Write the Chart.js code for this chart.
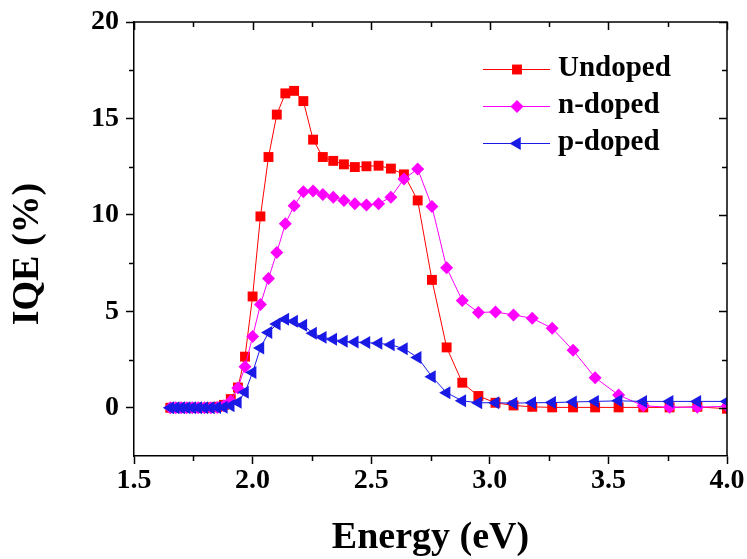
<!DOCTYPE html>
<html>
<head>
<meta charset="utf-8">
<title>IQE vs Energy</title>
<script src="https://cdn.jsdelivr.net/npm/chart.js@4.4.0/dist/chart.umd.min.js"></script>
<style>
  html, body { margin: 0; padding: 0; background: #fff; }
  #wrap { position: relative; width: 747px; height: 559px; }
</style>
</head>
<body>
<div id="wrap"><canvas id="iqeChart"></canvas></div>
<script>
// photon energy of each measured point (eV)
const energy = [1.653, 1.676, 1.699, 1.722, 1.746, 1.771, 1.797, 1.824, 1.851, 1.879,
  1.908, 1.938, 1.968, 2.000, 2.033, 2.067, 2.102, 2.138, 2.175, 2.214,
  2.255, 2.296, 2.340, 2.385, 2.431, 2.480, 2.531, 2.583, 2.638, 2.696,
  2.756, 2.818, 2.884, 2.952, 3.024, 3.100, 3.179, 3.263, 3.351, 3.444,
  3.543, 3.647, 3.758, 3.875, 4.000];

// IQE (%)
const undoped = [0, 0, 0, 0, 0, 0, 0, 0.02, 0.05, 0.15,
  0.45, 1.05, 2.65, 5.77, 9.92, 13.0, 15.2, 16.3, 16.43, 15.9,
  13.9, 13.0, 12.8, 12.62, 12.48, 12.52, 12.55, 12.4, 12.1, 10.75,
  6.63, 3.13, 1.3, 0.61, 0.26, 0.12, 0.05, 0.02, 0.02, 0.02,
  0.02, 0.02, 0.02, 0.05, -0.05];
const nDoped = [0, 0, 0, 0, 0, 0, 0, 0, 0.02, 0.1,
  0.35, 1.02, 2.13, 3.69, 5.35, 6.7, 8.05, 9.54, 10.47, 11.2,
  11.24, 11.06, 10.92, 10.75, 10.58, 10.51, 10.58, 10.92, 11.86, 12.38,
  10.44, 7.26, 5.56, 4.94, 4.97, 4.81, 4.64, 4.12, 2.98, 1.56,
  0.66, 0.1, 0.03, 0.03, 0.08];
const pDoped = [0, 0, 0, 0, 0, 0, 0, 0, 0.01, 0.03,
  0.1, 0.28, 0.8, 1.83, 3.1, 3.9, 4.34, 4.59, 4.48, 4.28,
  3.86, 3.65, 3.55, 3.45, 3.41, 3.38, 3.34, 3.27, 3.06, 2.61,
  1.61, 0.78, 0.36, 0.26, 0.26, 0.24, 0.26, 0.27, 0.3, 0.33,
  0.36, 0.33, 0.33, 0.33, 0.33];

const seriesNames = ['Undoped', 'n-doped', 'p-doped'];
const xTickValues = [1.5, 2.0, 2.5, 3.0, 3.5, 4.0];
const xMinorTicks = [1.75, 2.25, 2.75, 3.25, 3.75];
const yTickValues = [0, 5, 10, 15, 20];
const yMinorTicks = [2.5, 7.5, 12.5, 17.5];

const FONT = '"Liberation Serif", "Times New Roman", serif';
const colors = { red: '#ff0000', magenta: '#ff00ff', blue: '#1a1ae6' };

Chart.defaults.font.family = FONT;
Chart.defaults.color = '#000';

const toXY = vals => vals.map((v, i) => ({ x: energy[i], y: v }));

const seriesStyle = [
  { color: colors.red, pointStyle: 'rect', pointRadius: 7, rotation: 0 },
  { color: colors.magenta, pointStyle: 'rectRot', pointRadius: 6.5, rotation: 0 },
  { color: colors.blue, pointStyle: 'triangle', pointRadius: 7.5, rotation: -90 },
];

function makeDataset(i, values) {
  const s = seriesStyle[i];
  return {
    label: seriesNames[i],
    data: toXY(values),
    borderColor: s.color,
    backgroundColor: s.color,
    borderWidth: 1,
    pointStyle: s.pointStyle,
    pointRadius: s.pointRadius,
    pointHoverRadius: s.pointRadius,
    pointRotation: s.rotation,
    pointBorderWidth: 0,
    pointBackgroundColor: s.color,
    tension: 0,
    order: 3 - i, // p-doped drawn on top
  };
}

// box frame with ticks on top/right, plus minor ticks
const framePlugin = {
  id: 'frame',
  afterDraw(chart) {
    const { ctx, chartArea: a, scales: { x, y } } = chart;
    ctx.save();
    ctx.strokeStyle = '#000';
    ctx.lineWidth = 1.5;
    ctx.beginPath();
    ctx.moveTo(a.left, a.top); ctx.lineTo(a.right, a.top); ctx.lineTo(a.right, a.bottom);
    xTickValues.forEach(v => {
      const px = Math.round(x.getPixelForValue(v)) + 0.5;
      ctx.moveTo(px, a.top); ctx.lineTo(px, a.top + 8);
    });
    xMinorTicks.forEach(v => {
      const px = Math.round(x.getPixelForValue(v)) + 0.5;
      ctx.moveTo(px, a.top); ctx.lineTo(px, a.top + 5);
      ctx.moveTo(px, a.bottom); ctx.lineTo(px, a.bottom + 5);
    });
    yTickValues.forEach(v => {
      const py = Math.round(y.getPixelForValue(v)) + 0.5;
      ctx.moveTo(a.right - 8, py); ctx.lineTo(a.right, py);
    });
    yMinorTicks.forEach(v => {
      const py = Math.round(y.getPixelForValue(v)) + 0.5;
      ctx.moveTo(a.left - 5, py); ctx.lineTo(a.left, py);
      ctx.moveTo(a.right - 5, py); ctx.lineTo(a.right, py);
    });
    ctx.stroke();

    // y axis title
    ctx.fillStyle = '#000';
    ctx.font = 'bold 38px ' + FONT;
    ctx.textAlign = 'center';
    ctx.textBaseline = 'middle';
    ctx.translate(28, 254);
    ctx.rotate(-Math.PI / 2);
    ctx.fillText('IQE (%)', 0, 0);
    ctx.restore();
  }
};

// Origin-style legend: line - marker - line, then label
const legendPlugin = {
  id: 'originLegend',
  afterDraw(chart) {
    const { ctx } = chart;
    const rowY = [69, 106, 143];
    ctx.save();
    chart.data.datasets.forEach((ds, i) => {
      const yy = rowY[i];
      ctx.strokeStyle = ds.borderColor;
      ctx.lineWidth = 1;
      ctx.beginPath();
      ctx.moveTo(483, yy + 0.5); ctx.lineTo(550, yy + 0.5);
      ctx.stroke();
      ctx.fillStyle = ds.pointBackgroundColor;
      Chart.helpers.drawPoint(ctx, {
        pointStyle: ds.pointStyle, radius: ds.pointRadius,
        rotation: ds.pointRotation, borderWidth: 0
      }, 517, yy + 0.5);
      ctx.fillStyle = '#000';
      ctx.font = 'bold 29px ' + FONT;
      ctx.textAlign = 'left';
      ctx.textBaseline = 'middle';
      ctx.fillText(ds.label, 558, yy);
    });
    ctx.restore();
  }
};

new Chart(document.getElementById('iqeChart'), {
  type: 'line',
  data: {
    datasets: [makeDataset(0, undoped), makeDataset(1, nDoped), makeDataset(2, pDoped)]
  },
  options: {
    responsive: true,
    maintainAspectRatio: false,
    animation: false,
    events: [],
    layout: { padding: { left: 0, right: 20, top: 22, bottom: 0 } },
    plugins: { legend: { display: false }, tooltip: { enabled: false } },
    scales: {
      x: {
        type: 'linear', min: 1.5, max: 4.0,
        afterBuildTicks: s => { s.ticks = xTickValues.map(v => ({ value: v })); },
        afterFit: s => { s.height = 103; s.paddingLeft = 0; s.paddingRight = 0; },
        ticks: {
          font: { size: 28, weight: 'bold' }, color: '#000', padding: 0,
          maxRotation: 0, autoSkip: false,
          callback: v => v.toFixed(1)
        },
        grid: { drawOnChartArea: false, drawTicks: true, tickLength: 8, tickWidth: 1.5, tickColor: '#000' },
        border: { display: true, color: '#000', width: 1.5 },
        title: {
          display: true, text: 'Energy (eV)', color: '#000',
          font: { size: 38, weight: 'bold', lineHeight: 1 },
          padding: { top: 0, bottom: 2 }
        }
      },
      y: {
        type: 'linear', min: -2.5, max: 20,
        afterBuildTicks: s => { s.ticks = yTickValues.map(v => ({ value: v })); },
        afterFit: s => { s.width = 134; s.paddingTop = 0; s.paddingBottom = 0; },
        ticks: {
          font: { size: 28, weight: 'bold' }, color: '#000', padding: 7,
          autoSkip: false,
          callback: v => String(v)
        },
        grid: { drawOnChartArea: false, drawTicks: true, tickLength: 8, tickWidth: 1.5, tickColor: '#000' },
        border: { display: true, color: '#000', width: 1.5 }
      }
    }
  },
  plugins: [framePlugin, legendPlugin]
});
</script>
</body>
</html>
